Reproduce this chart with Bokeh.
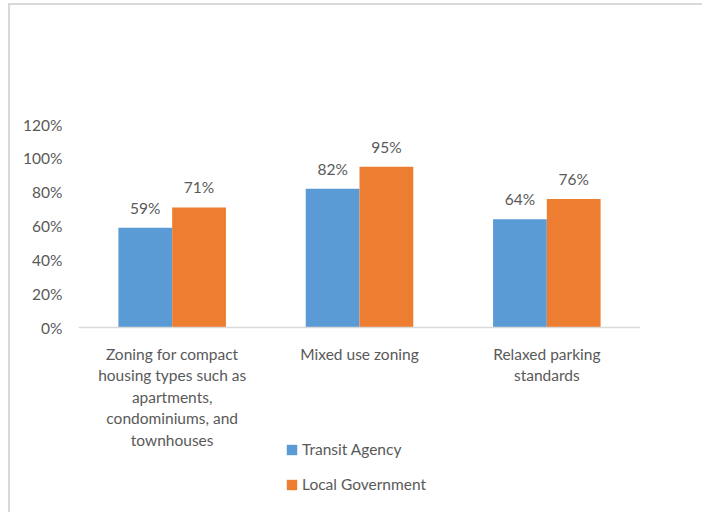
from bokeh.plotting import figure
from bokeh.models import (ColumnDataSource, FactorRange, Range1d, NumeralTickFormatter,
                          FixedTicker, Legend, LegendItem, LabelSet, Span)
from bokeh.core.properties import value
from bokeh.transform import dodge
from bokeh.embed import file_html
from bokeh.resources import INLINE

categories = [
    "Zoning for compact\nhousing types such as\napartments,\ncondominiums, and\ntownhouses",
    "Mixed use zoning",
    "Relaxed parking\nstandards",
]
transit_agency = [0.59, 0.82, 0.64]
local_government = [0.71, 0.95, 0.76]
series_names = ["Transit Agency", "Local Government"]
y_ticks = [0, 0.2, 0.4, 0.6, 0.8, 1.0, 1.2]

FONT = "Lato"
TXT = "#595959"
BLUE = "#5B9BD5"
ORANGE = "#ED7D31"
GRAY = "#d9d9d9"

# layout (pixels)
TOP, BASE, BOTTOM = 124, 327, 505
y_max = 1.2
y_min = -y_max * (BOTTOM - BASE) / (BASE - TOP)

src = ColumnDataSource(dict(
    cat=categories,
    ta=transit_agency,
    lg=local_government,
    ta_lbl=[f"{round(v*100)}%" for v in transit_agency],
    lg_lbl=[f"{round(v*100)}%" for v in local_government],
))

p = figure(width=702, height=512, x_range=FactorRange(*categories, range_padding=0),
           y_range=Range1d(y_min, y_max), output_backend="svg", toolbar_location=None,
           min_border_left=78, min_border_right=62, min_border_top=TOP,
           min_border_bottom=512 - BOTTOM)
p.border_fill_color = None
p.background_fill_color = None
p.styles = {
    "background": (f"linear-gradient({GRAY},{GRAY}) 8px 3px / 2px 509px no-repeat, "
                   f"linear-gradient({GRAY},{GRAY}) 8px 3px / 694px 2px no-repeat, white"),
}

w = 0.287
r1 = p.vbar(x=dodge("cat", -w / 2, range=p.x_range), top="ta", bottom=0, width=w,
            source=src, fill_color=BLUE, line_color=None)
r2 = p.vbar(x=dodge("cat", w / 2, range=p.x_range), top="lg", bottom=0, width=w,
            source=src, fill_color=ORANGE, line_color=None)

for col, lbl, off in (("ta", "ta_lbl", -w / 2), ("lg", "lg_lbl", w / 2)):
    p.add_layout(LabelSet(x=dodge("cat", off, range=p.x_range), y=col, text=lbl, source=src,
                          text_align="center", text_baseline="bottom", y_offset=11,
                          text_font=value(FONT), text_font_size="15.5px", text_color=TXT))

# baseline (category axis line) and category labels
p.add_layout(Span(location=0, dimension="width", line_color=GRAY, line_width=1.5))
p.text(x="cat", y=0, text="cat", source=src, text_align="center", text_baseline="top",
       y_offset=17, text_font=value(FONT), text_font_size="15.5px", text_color=TXT,
       text_line_height=1.2)

p.xgrid.visible = False
p.ygrid.visible = False
p.outline_line_color = None
p.xaxis.visible = False

p.yaxis.ticker = FixedTicker(ticks=y_ticks)
p.yaxis.formatter = NumeralTickFormatter(format="0%")
p.yaxis.axis_line_color = None
p.yaxis.major_tick_line_color = None
p.yaxis.minor_tick_line_color = None
p.yaxis.major_label_standoff = 10
p.yaxis.major_label_text_font = FONT
p.yaxis.major_label_text_font_size = "15.5px"
p.yaxis.major_label_text_color = TXT

legend = Legend(items=[LegendItem(label=series_names[0], renderers=[r1]),
                       LegendItem(label=series_names[1], renderers=[r2])],
                location=(207, 11), orientation="vertical",
                glyph_width=13, glyph_height=13, label_height=20, spacing=15,
                padding=0, margin=0, border_line_color=None, background_fill_alpha=0,
                label_text_font=FONT, label_text_font_size="15.5px", label_text_color=TXT,
                label_standoff=4)
p.add_layout(legend, "center")

open("out.html", "w").write(file_html(p, INLINE))
